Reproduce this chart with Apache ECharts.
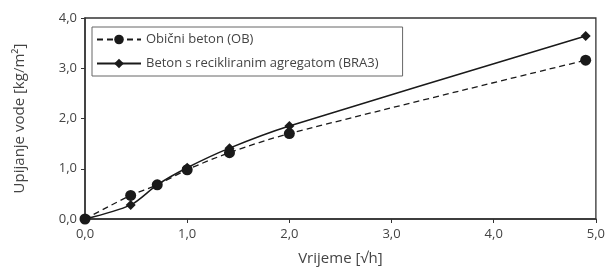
<!DOCTYPE html>
<html>
<head>
<meta charset="utf-8">
<script src="https://cdn.jsdelivr.net/npm/echarts@6/dist/echarts.min.js"></script>
<style>
  html, body { margin: 0; padding: 0; background: #fff; }
  #chart { width: 608px; height: 277px; }
</style>
</head>
<body>
<div id="chart"></div>
<script>
// vrijeme [sqrt h]
var xVals = [0, 0.447, 0.707, 1.0, 1.414, 2.0, 4.9];
var obVals = [0, 0.47, 0.68, 0.98, 1.32, 1.70, 3.16];
var bra3Vals = [0, 0.28, 0.68, 1.02, 1.41, 1.85, 3.64];
var xTicks = [0, 1, 2, 3, 4, 5];
var yTicks = [0, 1, 2, 3, 4];

function pairs(ys) {
  return xVals.map(function (x, i) { return [x, ys[i]]; });
}

var fmt = function (v) { return v.toFixed(1).replace(".", ","); };
var axisColor = "#333";
var textColor = "#444";
var font = "Open Sans";

var chart = echarts.init(document.getElementById("chart"));
chart.setOption({
  animation: false,
  grid: {
    left: 85,
    right: 11,
    top: 18,
    bottom: 58,
    show: true,
    borderColor: axisColor,
    borderWidth: 1.3
  },
  legend: {
    left: 92,
    top: 27,
    orient: "vertical",
    itemWidth: 44,
    itemHeight: 12,
    itemGap: 11,
    padding: [6, 24, 6, 4],
    borderColor: "#666",
    borderWidth: 1,
    textStyle: { color: textColor, fontSize: 13, fontFamily: font },
    data: ["Obični beton (OB)", "Beton s recikliranim agregatom (BRA3)"]
  },
  xAxis: {
    type: "value",
    min: xTicks[0],
    max: xTicks[xTicks.length - 1],
    interval: 1,
    name: "Vrijeme [√h]",
    nameLocation: "middle",
    nameGap: 32,
    nameTextStyle: { color: textColor, fontSize: 15, fontFamily: font },
    axisLine: { lineStyle: { color: axisColor, width: 1.5 } },
    axisTick: { show: true, length: 4, lineStyle: { color: axisColor } },
    axisLabel: { color: textColor, fontSize: 13, fontFamily: font, margin: 9, formatter: fmt },
    splitLine: { show: false }
  },
  yAxis: {
    type: "value",
    min: yTicks[0],
    max: yTicks[yTicks.length - 1],
    interval: 1,
    name: "Upijanje vode [kg/m²]",
    nameLocation: "middle",
    nameGap: 58,
    nameTextStyle: { color: textColor, fontSize: 15, fontFamily: font },
    axisLine: { show: true, lineStyle: { color: axisColor, width: 1.5 } },
    axisTick: { show: true, length: 4, lineStyle: { color: axisColor } },
    axisLabel: { color: textColor, fontSize: 13, fontFamily: font, margin: 8, formatter: fmt },
    splitLine: { show: false }
  },
  series: [
    {
      name: "Obični beton (OB)",
      type: "line",
      smooth: 0.3,
      data: pairs(obVals),
      symbol: "circle",
      symbolSize: 11,
      itemStyle: { color: "#1a1a1a" },
      lineStyle: { color: "#1a1a1a", width: 1.3, type: [6, 4] },
      z: 2
    },
    {
      name: "Beton s recikliranim agregatom (BRA3)",
      type: "line",
      smooth: 0.3,
      data: pairs(bra3Vals),
      symbol: "diamond",
      symbolSize: 10,
      itemStyle: { color: "#1a1a1a" },
      lineStyle: { color: "#1a1a1a", width: 1.5 },
      z: 3
    }
  ]
});
</script>
</body>
</html>
